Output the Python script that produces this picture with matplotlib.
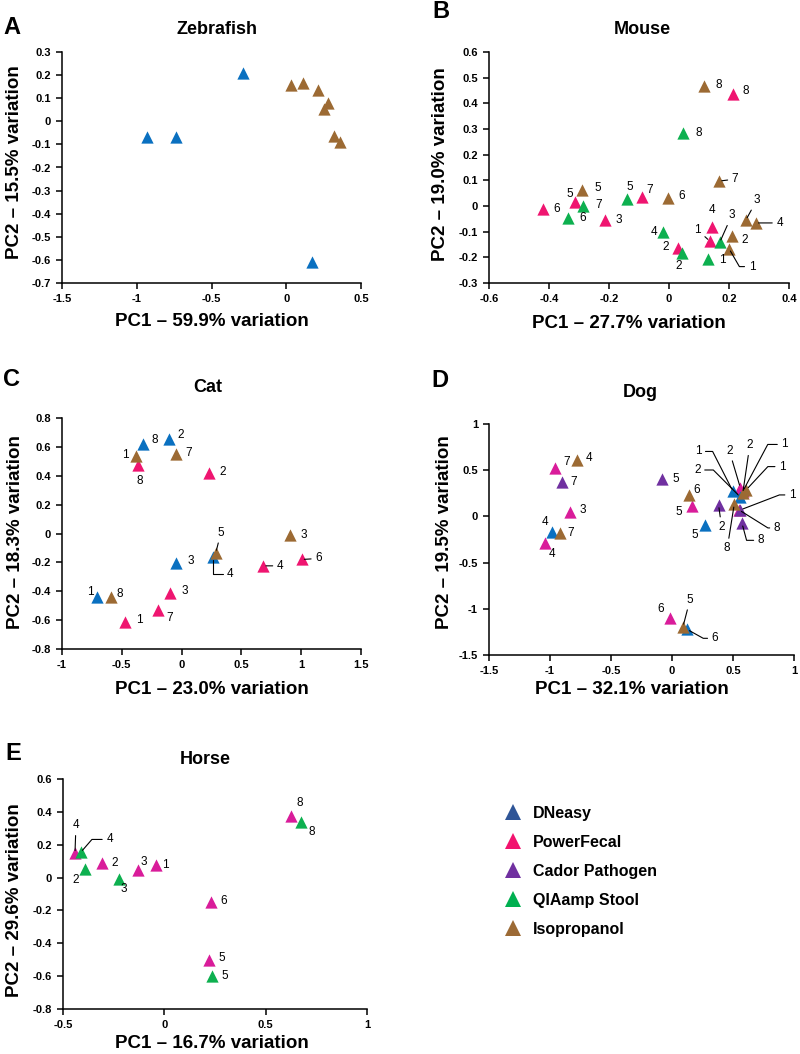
import matplotlib
matplotlib.use("Agg")
import matplotlib.pyplot as plt
from matplotlib.lines import Line2D
from matplotlib.ticker import MultipleLocator, FuncFormatter

plt.rcParams.update({"font.family": ["Liberation Sans", "DejaVu Sans"],
                     "axes.unicode_minus": False})

W, H = 800, 1054

# ---- PCA scores (sample ids 1-8 per extraction kit) ----
# Zebrafish (no sample labels)
zf_dn_x = [-0.93, -0.74, -0.29, 0.17]
zf_dn_y = [-0.07, -0.07, 0.21, -0.61]
zf_iso_x = [0.03, 0.11, 0.21, 0.28, 0.25, 0.32, 0.36]
zf_iso_y = [0.155, 0.165, 0.135, 0.08, 0.055, -0.065, -0.09]

# Mouse
ms_id = [1, 2, 3, 4, 5, 6, 7, 8]
ms_pf_x = [0.136, 0.03, -0.214, 0.143, -0.312, -0.42, -0.089, 0.213]
ms_pf_y = [-0.137, -0.163, -0.055, -0.081, 0.014, -0.013, 0.036, 0.437]
ms_qs_x = [0.13, 0.042, 0.169, -0.02, -0.139, -0.336, -0.286, 0.048]
ms_qs_y = [-0.205, -0.185, -0.142, -0.1, 0.026, -0.045, 0.001, 0.283]
ms_iso_x = [0.2, 0.211, 0.256, 0.289, -0.289, -0.002, 0.167, 0.116]
ms_iso_y = [-0.166, -0.118, -0.055, -0.066, 0.062, 0.03, 0.097, 0.468]

# Cat
ct_dn_id = [1, 2, 3, 4, 8]
ct_dn_x = [-0.707, -0.104, -0.043, 0.264, -0.322]
ct_dn_y = [-0.438, 0.657, -0.203, -0.166, 0.617]
ct_pf_id = [1, 2, 3, 4, 6, 7, 8]
ct_pf_x = [-0.47, 0.228, -0.093, 0.682, 1.003, -0.196, -0.364]
ct_pf_y = [-0.61, 0.419, -0.415, -0.224, -0.18, -0.53, 0.472]
ct_iso_id = [1, 3, 5, 7, 8]
ct_iso_x = [-0.383, 0.906, 0.286, -0.051, -0.593]
ct_iso_y = [0.537, -0.012, -0.134, 0.548, -0.438]

# Dog
dg_dn_id = [1, 2, 4, 5, 6]
dg_dn_x = [0.50, 0.56, -0.984, 0.273, 0.123]
dg_dn_y = [0.27, 0.21, -0.173, -0.094, -1.222]
dg_pf_id = [1, 2, 3, 4, 5, 6, 7, 8]
dg_pf_x = [0.58, 0.56, -0.839, -1.044, 0.161, -0.019, -0.962, 0.55]
dg_pf_y = [0.27, 0.31, 0.044, -0.292, 0.112, -1.103, 0.52, 0.07]
dg_cp_id = [1, 2, 5, 7, 8]
dg_cp_x = [0.56, 0.382, -0.085, -0.904, 0.574]
dg_cp_y = [0.07, 0.123, 0.401, 0.376, -0.075]
dg_iso_id = [1, 2, 4, 5, 6, 7, 8]
dg_iso_x = [0.61, 0.58, -0.776, 0.09, 0.142, -0.915, 0.51]
dg_iso_y = [0.29, 0.25, 0.61, -1.194, 0.232, -0.176, 0.13]

# Horse
hs_pf_id = [1, 2, 3, 4, 5, 6, 8]
hs_pf_x = [-0.039, -0.308, -0.13, -0.441, 0.219, 0.229, 0.627]
hs_pf_y = [0.074, 0.086, 0.046, 0.147, -0.5, -0.147, 0.373]
hs_qs_id = [2, 3, 4, 5, 8]
hs_qs_x = [-0.391, -0.225, -0.413, 0.235, 0.673]
hs_qs_y = [0.05, -0.011, 0.153, -0.598, 0.339]

KITS = ["DNeasy", "PowerFecal", "Cador Pathogen", "QIAamp Stool", "Isopropanol"]
LEG_COL = ["#2F5597", "#F2136E", "#7030A0", "#00B050", "#9C6A35"]
BLUE, PINK, MAG, PURP, GREEN, BROWN = ("#0A70C0", "#EF1570", "#D91C9A",
                                       "#7030A0", "#0DB04F", "#9C6A33")

# ---- label placement (offset in px, leader: None / 's' straight / angle) ----
ms_pf_off = [(-12, 11), (-12, 1), (14, 0), (0, 17), (-6, 8), (14, 0), (7, 7), (13, 3)]
ms_pf_ld = ['s', None, None, None, None, None, None, None]
ms_qs_off = [(14, -1), (-3, -13), (12, 27), (-9, 0), (2, 12), (14, 0), (15, 1), (15, 0)]
ms_qs_ld = [None, None, 's', None, None, None, None, None]
ms_iso_off = [(23, -18), (12, -4), (11, 20), (24, 0), (15, 2), (13, 2), (16, 2), (15, 1)]
ms_iso_ld = [120, None, 's', 's', None, None, 's', None]

ct_dn_off = [(-7, 5), (12, 4), (14, 2), (17, -17), (12, 4)]
ct_dn_ld = [None, None, None, 90, None]
ct_pf_off = [(14, 2), (14, 1), (14, 2), (17, 0), (17, 1), (12, -8), (2, -16)]
ct_pf_ld = [None, None, None, 's', 's', None, None]
ct_iso_off = [(-10, 1), (14, 0), (5, 20), (13, 1), (9, 3)]
ct_iso_ld = [None, None, 's', None, None]

dg_dn_off = [(-35, 40), (-43, 27), (-7, 10), (-11, -10), (28, -9)]
dg_dn_ld = [117, 135, None, None, -29]
dg_pf_off = [(42, 47), (-11, 37), (13, 2), (7, -11), (-13, -6), (-9, 9), (12, 6), (38, -18)]
dg_pf_ld = [62, 's', None, None, None, None, None, -32]
dg_cp_off = [(52, 15), (3, -22), (14, 0), (12, 0), (19, -17)]
dg_cp_ld = [21, 's', None, None, -75]
dg_iso_off = [(36, 23), (7, 48), (12, 2), (7, 27), (7, 5), (10, 0), (-7, -44)]
dg_iso_ld = [47, 's', None, 's', None, None, 's']

hs_pf_off = [(9, 0), (13, 0), (6, 8), (1, 28), (13, 2), (13, 1), (8, 13)]
hs_pf_ld = [None, None, None, 's', None, None, None]
hs_qs_off = [(-9, -11), (5, -10), (29, 13), (13, 0), (11, -10)]
hs_qs_ld = [None, None, 49, None, None]

fig = plt.figure(figsize=(W / 100, H / 100), dpi=100)


def fx(x, y):
    return x / W, 1 - y / H


def panel(box, xlim, xstep, ylim, ystep):
    l, t, r, b = box
    ax = fig.add_axes([l / W, 1 - b / H, (r - l) / W, (b - t) / H])
    ax.set_xlim(*xlim); ax.set_ylim(*ylim)
    ax.xaxis.set_major_locator(MultipleLocator(xstep))
    ax.yaxis.set_major_locator(MultipleLocator(ystep))
    fmt = FuncFormatter(lambda v, _: f"{round(v, 2) + 0:g}")
    ax.xaxis.set_major_formatter(fmt); ax.yaxis.set_major_formatter(fmt)
    for s in ("top", "right"):
        ax.spines[s].set_visible(False)
    for s in ("left", "bottom"):
        ax.spines[s].set_linewidth(1.1)
    ax.tick_params(direction="out", length=4, width=1.1, labelsize=8, pad=4)
    for lab in ax.get_xticklabels() + ax.get_yticklabels():
        lab.set_fontweight("bold")
    ax.patch.set_alpha(0)
    return ax


def pts(ax, xs, ys, col, ids=None, offs=None, leads=None):
    ax.scatter(xs, ys, marker="^", s=78, color=col, linewidths=0, zorder=2,
               clip_on=False)
    if ids is None:
        return
    for x, y, i, (dx, dy), ld in zip(xs, ys, ids, offs, leads):
        kw = {}
        if ld == 's':
            kw["arrowprops"] = dict(arrowstyle="-", color="k", lw=0.8,
                                    shrinkA=1, shrinkB=2)
        elif ld is not None:
            kw["arrowprops"] = dict(arrowstyle="-", color="k", lw=0.8,
                                    shrinkA=1, shrinkB=2,
                                    connectionstyle=f"angle,angleA=0,angleB={ld},rad=0")
        ax.annotate(str(i), (x, y), xytext=(dx, dy), textcoords="offset pixels",
                    ha="center", va="center", fontsize=8.5, zorder=4, **kw)


# A - Zebrafish
a = panel((62, 52, 361, 283), (-1.5, 0.5), 0.5, (-0.7, 0.3), 0.1)
pts(a, zf_dn_x, zf_dn_y, BLUE)
pts(a, zf_iso_x, zf_iso_y, BROWN)

# B - Mouse
b = panel((489, 52, 789, 283), (-0.6, 0.4), 0.2, (-0.3, 0.6), 0.1)
pts(b, ms_pf_x, ms_pf_y, PINK, ms_id, ms_pf_off, ms_pf_ld)
pts(b, ms_qs_x, ms_qs_y, GREEN, ms_id, ms_qs_off, ms_qs_ld)
pts(b, ms_iso_x, ms_iso_y, BROWN, ms_id, ms_iso_off, ms_iso_ld)

# C - Cat
c = panel((62, 418, 361, 649), (-1, 1.5), 0.5, (-0.8, 0.8), 0.2)
pts(c, ct_dn_x, ct_dn_y, BLUE, ct_dn_id, ct_dn_off, ct_dn_ld)
pts(c, ct_pf_x, ct_pf_y, PINK, ct_pf_id, ct_pf_off, ct_pf_ld)
pts(c, ct_iso_x, ct_iso_y, BROWN, ct_iso_id, ct_iso_off, ct_iso_ld)

# D - Dog
d = panel((489, 424, 794, 655), (-1.5, 1), 0.5, (-1.5, 1), 0.5)
pts(d, dg_pf_x, dg_pf_y, MAG, dg_pf_id, dg_pf_off, dg_pf_ld)
pts(d, dg_dn_x, dg_dn_y, BLUE, dg_dn_id, dg_dn_off, dg_dn_ld)
pts(d, dg_cp_x, dg_cp_y, PURP, dg_cp_id, dg_cp_off, dg_cp_ld)
pts(d, dg_iso_x, dg_iso_y, BROWN, dg_iso_id, dg_iso_off, dg_iso_ld)

# E - Horse
e = panel((63, 779, 367, 1009), (-0.5, 1), 0.5, (-0.8, 0.6), 0.2)
pts(e, hs_pf_x, hs_pf_y, MAG, hs_pf_id, hs_pf_off, hs_pf_ld)
pts(e, hs_qs_x, hs_qs_y, GREEN, hs_qs_id, hs_qs_off, hs_qs_ld)

# panel letters, titles and axis titles
for (x, y), s in zip([(12, 27), (441, 12), (12, 379), (440, 380), (13, 754)], "ABCDE"):
    fig.text(*fx(x, y), s, fontsize=17, fontweight="bold", ha="center", va="center")
for (x, y), s in zip([(217, 30), (642, 30), (208, 388), (640, 393), (205, 759)],
                     ["Zebrafish", "Mouse", "Cat", "Dog", "Horse"]):
    fig.text(*fx(x, y), s, fontsize=13, fontweight="bold", ha="center", va="center")
for (x, y), s in zip([(212, 322), (629, 323), (212, 690), (632, 690), (212, 1044)],
                     ["59.9", "27.7", "23.0", "32.1", "16.7"]):
    fig.text(*fx(x, y), f"PC1 \u2013 {s}% variation", fontsize=13.5,
             fontweight="bold", ha="center", va="center")
for (x, y), s in zip([(15, 162), (440, 164), (16, 532), (444, 532), (15, 900)],
                     ["15.5", "19.0", "18.3", "19.5", "29.6"]):
    fig.text(*fx(x, y), f"PC2 \u2013 {s}% variation", fontsize=13.5,
             fontweight="bold", ha="center", va="center", rotation=90)

handles = [Line2D([], [], marker="^", ls="none", ms=12, color=cl, mew=0)
           for cl in LEG_COL]
fig.legend(handles, KITS, loc="upper left", bbox_to_anchor=fx(503, 806),
           frameon=False, prop=dict(size=11.5, weight="bold"), handlelength=1.2,
           handletextpad=0.7, labelspacing=0.87, borderpad=0, borderaxespad=0)

fig.savefig("out.png", dpi=100)
